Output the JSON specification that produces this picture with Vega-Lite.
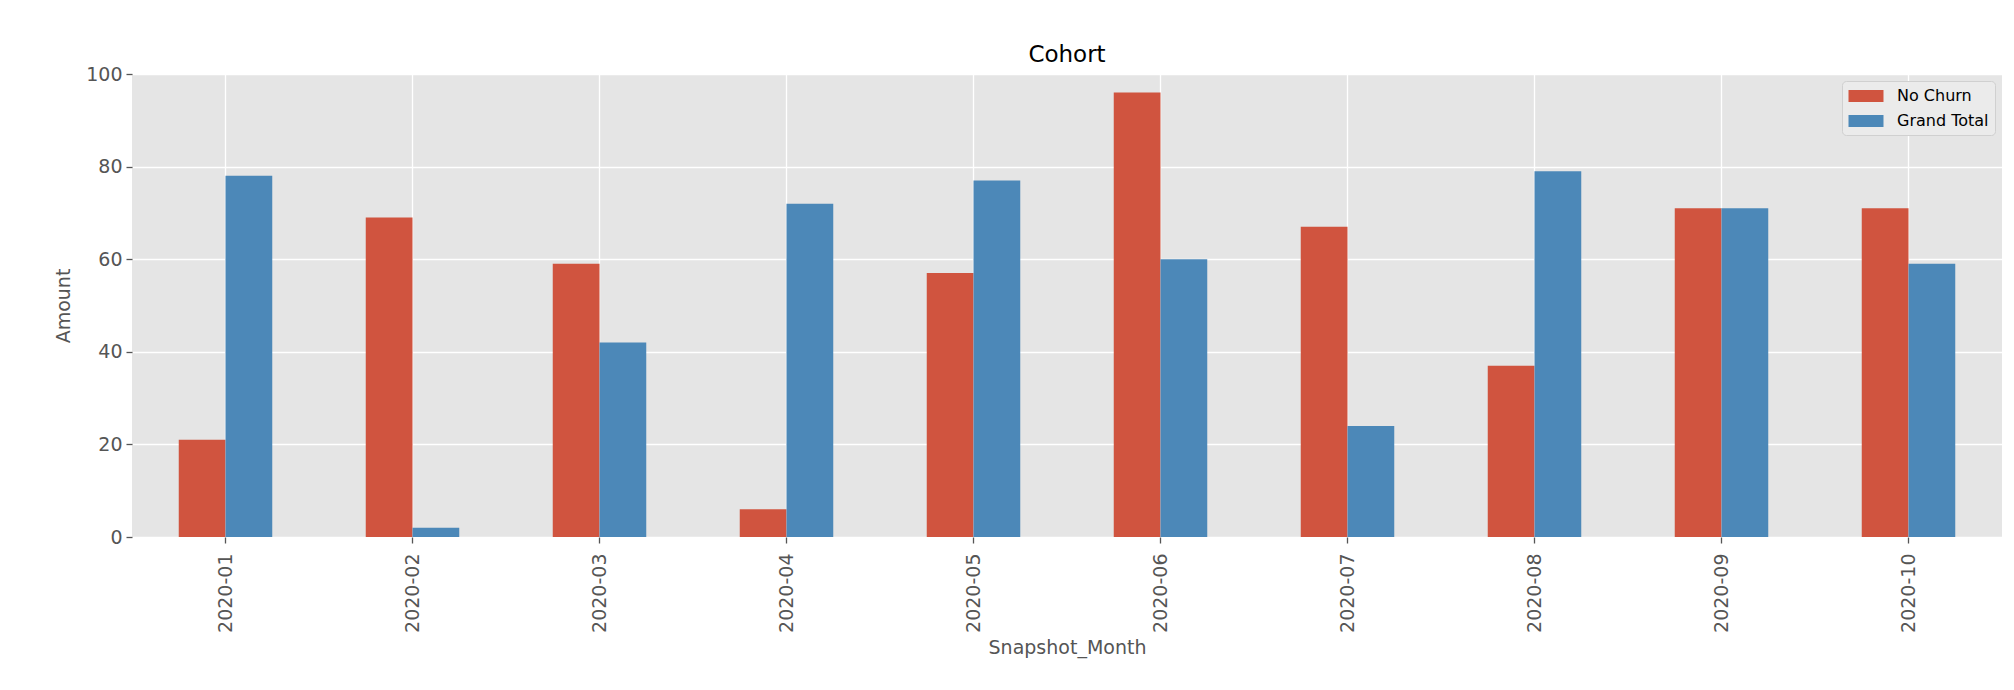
{
  "$schema": "https://vega.github.io/schema/vega-lite/v6.json",
  "width": 1870,
  "height": 463,
  "autosize": {"type": "none"},
  "padding": {"left": 132, "top": 74, "right": 12, "bottom": 153},
  "background": "white",
  "title": {"text": "Cohort", "fontSize": 23, "font": "DejaVu Sans", "fontWeight": "normal", "color": "#000000", "offset": -2},
  "data": {"values": [
    {"month": "2020-01", "series": "No Churn", "value": 21},
    {"month": "2020-01", "series": "Grand Total", "value": 78},
    {"month": "2020-02", "series": "No Churn", "value": 69},
    {"month": "2020-02", "series": "Grand Total", "value": 2},
    {"month": "2020-03", "series": "No Churn", "value": 59},
    {"month": "2020-03", "series": "Grand Total", "value": 42},
    {"month": "2020-04", "series": "No Churn", "value": 6},
    {"month": "2020-04", "series": "Grand Total", "value": 72},
    {"month": "2020-05", "series": "No Churn", "value": 57},
    {"month": "2020-05", "series": "Grand Total", "value": 77},
    {"month": "2020-06", "series": "No Churn", "value": 96},
    {"month": "2020-06", "series": "Grand Total", "value": 60},
    {"month": "2020-07", "series": "No Churn", "value": 67},
    {"month": "2020-07", "series": "Grand Total", "value": 24},
    {"month": "2020-08", "series": "No Churn", "value": 37},
    {"month": "2020-08", "series": "Grand Total", "value": 79},
    {"month": "2020-09", "series": "No Churn", "value": 71},
    {"month": "2020-09", "series": "Grand Total", "value": 71},
    {"month": "2020-10", "series": "No Churn", "value": 71},
    {"month": "2020-10", "series": "Grand Total", "value": 59}
  ]},
  "mark": {"type": "bar", "stroke": null},
  "encoding": {
    "x": {
      "field": "month", "type": "nominal", "title": "Snapshot_Month",
      "scale": {"paddingInner": 0.5, "paddingOuter": 0.25},
      "axis": {
        "labelAngle": 270, "labelAlign": "right", "labelBaseline": "middle",
        "labelFontSize": 19, "labelFont": "DejaVu Sans", "labelColor": "#555555",
        "labelPadding": 10, "tickSize": 6, "tickColor": "#555555", "tickWidth": 1.3,
        "domain": false, "grid": true, "gridColor": "#FFFFFF", "gridWidth": 1.3, "bandPosition": 0.5,
        "titleFontSize": 19, "titleFont": "DejaVu Sans", "titleFontWeight": "normal", "titleColor": "#555555", "titlePadding": 6
      }
    },
    "xOffset": {"field": "series", "type": "nominal", "sort": ["No Churn", "Grand Total"]},
    "y": {
      "field": "value", "type": "quantitative", "title": "Amount",
      "scale": {"domain": [0, 100], "nice": false},
      "axis": {
        "values": [0, 20, 40, 60, 80, 100],
        "labelFontSize": 19, "labelFont": "DejaVu Sans", "labelColor": "#555555",
        "labelPadding": 4, "tickSize": 6, "tickColor": "#555555", "tickWidth": 1.3,
        "domain": false, "grid": true, "gridColor": "#FFFFFF", "gridWidth": 1.3,
        "titleFontSize": 19, "titleFont": "DejaVu Sans", "titleFontWeight": "normal", "titleColor": "#555555", "titlePadding": 12
      }
    },
    "color": {
      "field": "series", "type": "nominal",
      "scale": {"domain": ["No Churn", "Grand Total"], "range": ["#D0543F", "#4C88B8"]},
      "legend": {
        "title": null, "orient": "top-right", "offset": 7,
        "symbolType": "M-2,-0.7H2V0.7H-2Z", "symbolSize": 306, "symbolStrokeWidth": 0, "symbolOpacity": 1,
        "symbolOffset": 9,
        "labelFontSize": 16, "labelFont": "DejaVu Sans", "labelColor": "#000000", "labelOffset": 22,
        "padding": 6, "fillColor": "#EBEBEB", "strokeColor": "#D0D0D0", "cornerRadius": 4, "rowPadding": 8
      }
    }
  },
  "config": {
    "view": {"fill": "#E5E5E5", "stroke": null},
    "axis": {"gridOpacity": 1}
  }
}
